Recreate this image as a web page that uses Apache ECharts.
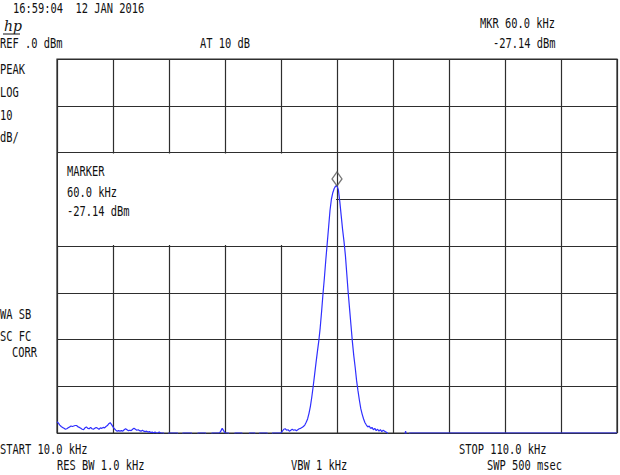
<!DOCTYPE html>
<html>
<head>
<meta charset="utf-8">
<script src="https://cdn.jsdelivr.net/npm/echarts@6/dist/echarts.min.js"></script>
<style>
html,body{margin:0;padding:0;background:#fff;}
#chart{width:620px;height:475px;}
</style>
</head>
<body>
<div id="chart"></div>
<script>
// ---- data ----
const freqAxis = { startKHz: 10, stopKHz: 110, divKHz: 10 };
const levelAxis = { refDbm: 0, dbPerDiv: 10, bottomDbm: -80 };
const markerPoint = [60.0, -27.14];

// [frequency kHz, level dBm]
const tracePoints = [
[10.0,-77.6],[10.25,-77.9],[10.5,-78.3],[10.75,-78.6],[11.0,-78.8],[11.25,-79.0],[11.5,-79.2],[11.75,-79.1],
[12.0,-78.9],[12.25,-78.7],[12.5,-78.5],[12.75,-78.6],[13.0,-78.5],[13.25,-78.4],[13.5,-78.4],[13.75,-78.7],
[14.0,-78.8],[14.25,-79.0],[14.5,-79.2],[14.75,-79.3],[15.0,-78.9],[15.25,-78.7],[15.5,-79.0],[15.75,-79.1],
[16.0,-78.8],[16.25,-79.1],[16.5,-79.2],[16.75,-79.0],[17.0,-78.8],[17.25,-79.0],[17.5,-79.2],[17.75,-78.9],
[18.0,-79.0],[18.25,-78.8],[18.5,-78.9],[18.75,-78.6],[19.0,-78.4],[19.25,-78.0],[19.5,-77.8],[19.75,-78.2],
[20.0,-78.7],[20.25,-79.1],[20.5,-79.4],[20.75,-79.6],[21.0,-79.5],[21.25,-79.6],[21.5,-79.5],[21.75,-79.6],
[22.0,-79.3],[22.25,-79.1],[22.5,-79.3],[22.75,-79.5],[23.0,-79.4],[23.25,-79.5],[23.5,-79.2],[23.75,-79.0],
[24.0,-79.2],[24.25,-79.4],[24.5,-79.3],[24.75,-79.5],[25.0,-79.6],[25.25,-79.4],[25.5,-79.6],[25.75,-79.7],
[26.0,-79.6],[26.25,-79.8],[26.5,-79.7],[26.75,-79.9],[27.0,-79.8],[27.25,-80],[27.5,-79.8],[27.75,-80],
[28.0,-80],[28.25,-79.8],[28.5,-80],
[29.0,-80],[29.2,-81],[29.8,-81],[30.0,-80],[31.5,-80],[31.7,-81],[32.3,-81],[32.5,-80],
[34.0,-80],[34.2,-81],[35.0,-81],[35.2,-80],[36.5,-80],[36.7,-81],[37.5,-81],[37.7,-80],
[39.0,-80],[39.25,-79.6],[39.5,-79.0],[39.75,-79.5],[40.0,-80],[40.6,-80],[40.8,-81],[41.6,-81],[41.8,-80],
[43.0,-80],[43.2,-81],[44.2,-81],[44.4,-80],[45.3,-80],[45.5,-81],[46.0,-81],[46.2,-80],
[47.5,-80],[47.7,-81],[48.3,-81],[48.5,-80],
[50.0,-80],[50.25,-79.6],[50.5,-79.2],[50.75,-79.1],[51.0,-79.4],[51.25,-79.3],[51.5,-79.6],[51.75,-79.4],
[52.0,-79.2],[52.25,-79.4],[52.5,-79.3],[52.75,-79.5],[53.0,-79.3],[53.25,-79.1],[53.5,-79.0],[53.75,-78.8],
[54.0,-78.6],[54.25,-78.3],[54.5,-77.7],[54.75,-77.0],[55.0,-75.8],[55.25,-74.3],[55.5,-72.3],[55.75,-70.0],
[56.0,-67.5],[56.25,-65.0],[56.5,-62.6],[56.75,-60.3],[57.0,-57.5],[57.25,-54.0],[57.5,-50.2],[57.75,-46.8],
[58.0,-43.0],[58.25,-39.5],[58.5,-36.0],[58.75,-32.4],[59.0,-30.0],[59.25,-28.6],[59.5,-27.7],[59.75,-27.2],
[60.0,-27.14],[60.25,-28.0],[60.5,-30.5],[60.75,-33.5],[61.0,-36.5],[61.25,-39.0],[61.5,-42.0],[61.75,-46.0],
[62.0,-50.0],[62.25,-53.5],[62.5,-57.0],[62.75,-60.5],[63.0,-63.5],[63.25,-66.0],[63.5,-68.8],[63.75,-71.0],
[64.0,-73.0],[64.25,-74.8],[64.5,-76.0],[64.75,-77.0],[65.0,-77.8],[65.25,-78.3],[65.5,-78.7],[65.75,-78.5],
[66.0,-79.0],[66.25,-78.8],[66.5,-79.3],[66.75,-79.0],[67.0,-79.5],[67.25,-79.2],[67.5,-79.6],[67.75,-79.3],
[68.0,-79.7],[68.25,-79.4],[68.5,-79.6],[68.75,-79.8],[69.0,-80],
[69.2,-81],[72.0,-81],[72.25,-79.6],[72.5,-81],[72.8,-81],[73.0,-80],[110.0,-80]
];

// ---- texts ----
const headerTime = "16:59:04  12 JAN 2016";
const refText = "REF .0 dBm";
const attText = "AT 10 dB";
const mkrTopText = "MKR 60.0 kHz";
const mkrLevelText = "-27.14 dBm";
const leftTopTexts = ["PEAK", "LOG", "10", "dB/"];
const markerBoxTexts = ["MARKER", "60.0 kHz", "-27.14 dBm"];
const leftLowTexts = ["WA SB", "SC FC", "CORR"];
const startText = "START 10.0 kHz";
const stopText = "STOP 110.0 kHz";
const rbwText = "RES BW 1.0 kHz";
const vbwText = "VBW 1 kHz";
const swpText = "SWP 500 msec";

const FONT = "'DejaVu Sans Mono', 'Liberation Mono', monospace";
function label(text, x, y) {
  return {
    type: 'text', x: x, y: y, scaleY: 1.3, z: 10,
    style: { text: text, fontFamily: FONT, fontSize: 10.4, fill: '#111',
             align: 'left', verticalAlign: 'middle' }
  };
}

const graphics = [
  label(headerTime, 13, 9),
  { type: 'text', x: 4, y: 26, z: 10,
    style: { text: 'hp', fontFamily: "'DejaVu Serif', serif", fontStyle: 'italic',
             fontSize: 14, fill: '#111', verticalAlign: 'middle' } },
  { type: 'line', z: 10, shape: { x1: 3, y1: 34, x2: 20, y2: 34 },
    style: { stroke: '#111', lineWidth: 1 } },
  label(refText, 0, 44),
  label(attText, 200, 44),
  label(mkrTopText, 480, 24),
  label(mkrLevelText, 493, 44),
  label(leftTopTexts[0], 0, 70),
  label(leftTopTexts[1], 0, 93),
  label(leftTopTexts[2], 0, 116),
  label(leftTopTexts[3], 0, 138),
  label(markerBoxTexts[0], 67, 172),
  label(markerBoxTexts[1], 67, 193),
  label(markerBoxTexts[2], 67, 212),
  label(leftLowTexts[0], 0, 315),
  label(leftLowTexts[1], 0, 337),
  label(leftLowTexts[2], 12, 353),
  label(startText, 0, 450),
  label(rbwText, 57, 466),
  label(vbwText, 291, 466),
  label(stopText, 459, 450),
  label(swpText, 487, 466)
];

const chart = echarts.init(document.getElementById('chart'), null, { renderer: 'svg' });
const gridLine = { show: true, lineStyle: { color: '#2e2e2e', width: 1.2 } };
const option = {
  animation: false,
  backgroundColor: '#fff',
  grid: { left: 57, right: 3, top: 59, bottom: 42, show: true, borderColor: '#2e2e2e', borderWidth: 1.2 },
  xAxis: {
    type: 'value', min: freqAxis.startKHz, max: freqAxis.stopKHz, interval: freqAxis.divKHz,
    axisLine: { show: false }, axisTick: { show: false }, axisLabel: { show: false },
    splitLine: gridLine
  },
  yAxis: {
    type: 'value', min: levelAxis.bottomDbm, max: levelAxis.refDbm, interval: levelAxis.dbPerDiv,
    axisLine: { show: false }, axisTick: { show: false }, axisLabel: { show: false },
    splitLine: gridLine
  },
  series: [
    {
      type: 'line', data: tracePoints, showSymbol: false, clip: true, z: 5,
      lineStyle: { color: '#2f2fff', width: 1.2 }
    },
    {
      type: 'scatter', data: [markerPoint], symbol: 'diamond', symbolSize: [10, 14],
      symbolOffset: [0, -7], z: 6,
      itemStyle: { color: 'rgba(255,255,255,0)', borderColor: '#555', borderWidth: 1.3 }
    }
  ],
  graphic: graphics
};
chart.setOption(option);

// blank out the grid behind the marker readout block (two divisions high, five wide)
const pA = chart.convertToPixel({ gridIndex: 0 }, [freqAxis.startKHz, -20]);
const pB = chart.convertToPixel({ gridIndex: 0 }, [60, -40]);
graphics.push({
  type: 'rect', z: 1, silent: true,
  shape: { x: pA[0] + 1, y: pA[1] + 1, width: pB[0] - pA[0] - 2, height: pB[1] - pA[1] - 2 },
  style: { fill: '#fff' }
});
chart.setOption({ graphic: graphics });
</script>
</body>
</html>
